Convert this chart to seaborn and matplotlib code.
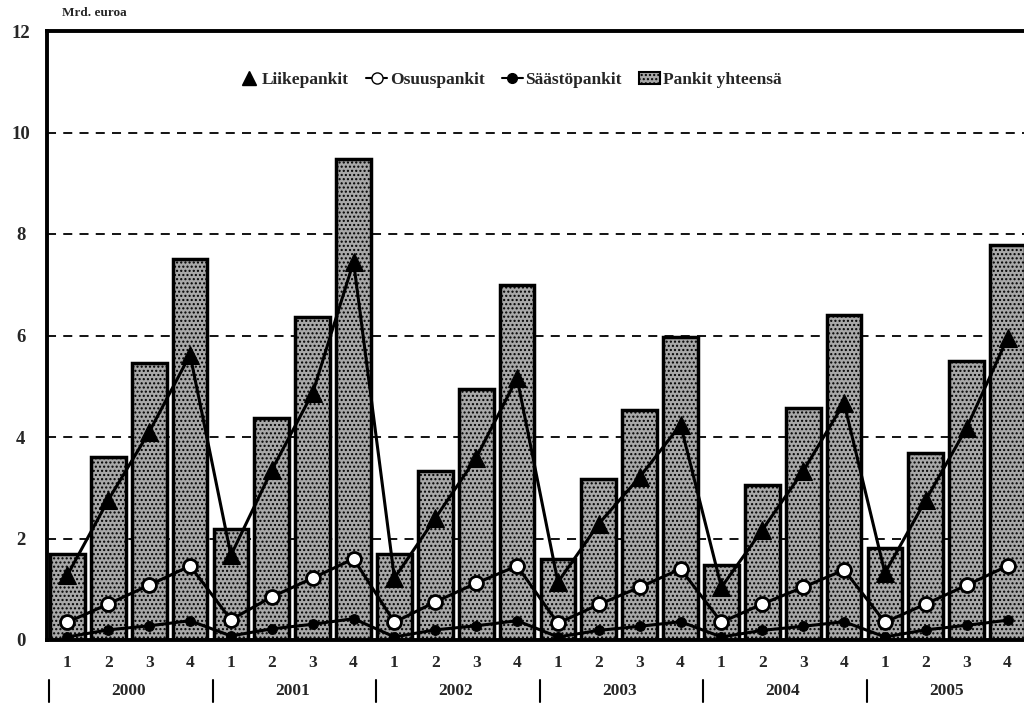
import pandas as pd
import matplotlib.pyplot as plt
import matplotlib.transforms as mtransforms
from matplotlib.lines import Line2D
from matplotlib.patches import Patch
import seaborn as sns

years = ["2000", "2001", "2002", "2003", "2004", "2005"]
quarters = ["1", "2", "3", "4"]

pankit_yhteensa = [1.70, 3.60, 5.45, 7.50,
                   2.18, 4.37, 6.36, 9.48,
                   1.70, 3.33, 4.95, 7.00,
                   1.60, 3.17, 4.53, 5.97,
                   1.48, 3.05, 4.57, 6.40,
                   1.82, 3.68, 5.50, 7.78]
liikepankit = [1.28, 2.76, 4.10, 5.62,
               1.67, 3.35, 4.87, 7.45,
               1.22, 2.40, 3.59, 5.16,
               1.14, 2.29, 3.21, 4.24,
               1.04, 2.17, 3.33, 4.67,
               1.32, 2.76, 4.18, 5.95]
osuuspankit = [0.35, 0.71, 1.08, 1.46,
               0.40, 0.85, 1.22, 1.60,
               0.35, 0.75, 1.12, 1.46,
               0.33, 0.70, 1.04, 1.40,
               0.35, 0.71, 1.04, 1.38,
               0.35, 0.71, 1.08, 1.46]
saastopankit = [0.06, 0.20, 0.28, 0.38,
                0.08, 0.22, 0.31, 0.42,
                0.06, 0.20, 0.28, 0.38,
                0.06, 0.19, 0.27, 0.36,
                0.06, 0.19, 0.27, 0.36,
                0.06, 0.20, 0.29, 0.39]

period = [f"{y}/{q}" for y in years for q in quarters]
df = pd.DataFrame({
    "period": period,
    "pos": range(len(period)),
    "Pankit yhteensä": pankit_yhteensa,
    "Liikepankit": liikepankit,
    "Osuuspankit": osuuspankit,
    "Säästöpankit": saastopankit,
})

sns.set_theme(style="white")
plt.rcParams["font.family"] = ["Liberation Serif", "DejaVu Serif"]
plt.rcParams["font.weight"] = "bold"
plt.rcParams["hatch.color"] = "#5a5a5a"

fig = plt.figure(figsize=(10.24, 7.03), dpi=100)
ax = fig.add_axes([47 / 1024, 63 / 703, (1028 - 47) / 1024, 609 / 703])

# dashed grid behind the bars
for yv in [2, 4, 6, 8, 10]:
    ax.axhline(yv, color="black", lw=1.3, ls=(0, (5, 4)), zorder=0)

sns.barplot(data=df, x="period", y="Pankit yhteensä", order=period,
            color="#a8a8a8", saturation=1, width=0.85,
            edgecolor="black", linewidth=2.5, ax=ax, zorder=2)
for p in ax.patches:
    p.set_hatch("....")

sns.lineplot(data=df, x="pos", y="Liikepankit", color="black", lw=2.2,
             marker="^", markersize=13, markeredgecolor="black",
             markerfacecolor="black", ax=ax, zorder=4)
sns.lineplot(data=df, x="pos", y="Osuuspankit", color="black", lw=2.2,
             marker="o", markersize=10, markeredgecolor="black",
             markeredgewidth=2, markerfacecolor="white", ax=ax, zorder=4)
sns.lineplot(data=df, x="pos", y="Säästöpankit", color="black", lw=2.2,
             marker="o", markersize=7, markeredgecolor="black",
             markerfacecolor="black", ax=ax, zorder=4)

ax.set_xlim(-0.5, 23.5)
ax.set_ylim(0, 12)
ax.set_yticks(range(0, 13, 2))
ax.set_xticks(range(len(period)))
ax.set_xticklabels(quarters * len(years), fontsize=12.5, fontweight="bold")
ax.set_yticklabels([str(v) for v in range(0, 13, 2)], fontsize=13.5,
                   fontweight="bold")
for lab in ax.get_yticklabels():
    lab.set_horizontalalignment("center")
ax.tick_params(axis="y", length=0, pad=19)
ax.tick_params(axis="x", length=0, pad=11)
ax.set_xlabel("")
ax.set_ylabel("")

for side in ["top", "left", "bottom"]:
    ax.spines[side].set_color("black")
    ax.spines[side].set_linewidth(2.8)
ax.spines["right"].set_visible(False)

trans = mtransforms.blended_transform_factory(ax.transData, ax.transAxes)
for i, y in enumerate(years):
    ax.text(1.5 + 4 * i, -0.083, y, transform=trans, ha="center",
            va="center", fontsize=12.5, fontweight="bold")
    ax.add_line(Line2D([-0.45 + 4 * i] * 2, [-0.066, -0.102], transform=trans,
                       color="black", lw=1.5, clip_on=False))

fig.text(62 / 1024, 1 - 13 / 703, "Mrd. euroa", ha="left", va="center",
         fontsize=9.5, fontweight="bold")

handles = [
    Line2D([], [], color="black", marker="^", markersize=10, lw=0,
           markerfacecolor="black"),
    Line2D([], [], color="black", marker="o", markersize=8, lw=1.5,
           markerfacecolor="white"),
    Line2D([], [], color="black", marker="o", markersize=7, lw=1.5,
           markerfacecolor="black"),
    Patch(facecolor="#a8a8a8", edgecolor="black", linewidth=1.5, hatch="...."),
]
ax.legend(handles, ["Liikepankit", "Osuuspankit", "Säästöpankit",
                    "Pankit yhteensä"],
          loc="center", bbox_to_anchor=(0.472, 0.92), ncol=4, frameon=False,
          handlelength=1.2, handletextpad=0.15, columnspacing=1.0,
          prop={"size": 12.5, "weight": "bold"})

fig.savefig("out.png", dpi=100)
